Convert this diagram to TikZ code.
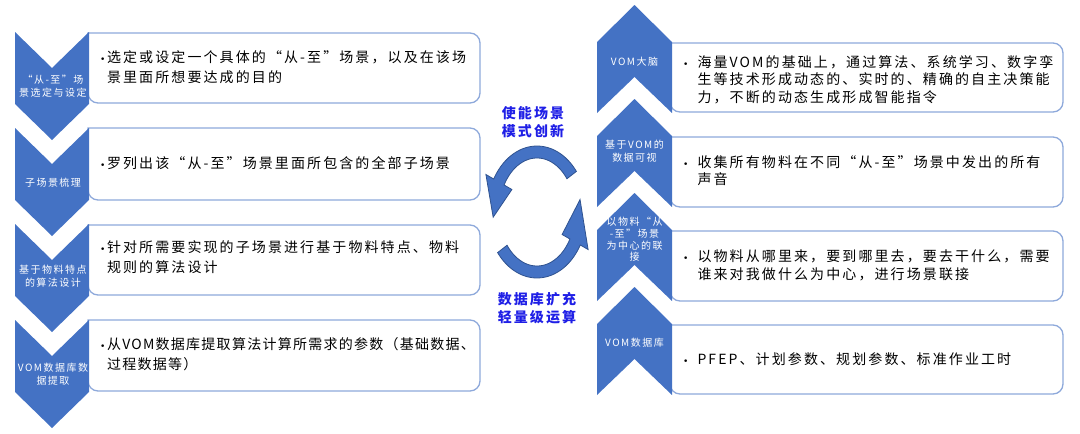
\documentclass[tikz,border=0pt]{standalone}
\usepackage{fontspec}
\setmainfont{Noto Sans CJK SC}
\newfontfamily\cjk[LetterSpace=15]{Noto Sans CJK SC}
\newfontfamily\cjknarrow[LetterSpace=9]{Noto Sans CJK SC}
\newfontfamily\cjkc[LetterSpace=15]{Noto Sans CJK SC}
\newfontfamily\bulfont{DejaVu Sans}
\definecolor{chev}{HTML}{4472C4}
\definecolor{boxline}{HTML}{8EA9DB}
\definecolor{arrfill}{HTML}{4472C4}
\definecolor{arrline}{HTML}{2F528F}
\definecolor{ctext}{HTML}{1F1FE6}
\tikzset{
  downchev/.pic={\fill[chev] (-37,0) -- (0,36) -- (37,0) -- (37,72) -- (0,108) -- (-37,72) -- cycle;},
  upchev/.pic={\fill[chev] (-37.5,0) -- (0,-37) -- (37.5,0) -- (37.5,71) -- (0,35) -- (-37.5,71) -- cycle;},
  boxline/.style={draw=boxline, line width=1.3pt, fill=white},
  chevtext/.style={text=white, align=center, inner sep=0pt, font=\cjkc\fontsize{10}{13}\selectfont},
  boxtext/.style={anchor=west, inner sep=0pt, text=black, font=\cjk\fontsize{14}{20}\selectfont},
  rboxtext/.style={anchor=west, inner sep=0pt, text=black, font=\cjk\fontsize{14}{17.5}\selectfont},
  midtext/.style={text=ctext, align=center, inner sep=0pt, font=\cjk\bfseries\fontsize{14}{18}\selectfont},
  arrowshape/.style={fill=arrfill, draw=arrline, line width=0.8pt},
}
\newcommand{\lbox}[2]{\draw[boxline] (88,#1) [rounded corners=10pt] -- (480,#1) -- (480,#2) -- (88,#2) [sharp corners] -- cycle;}
\newcommand{\rbox}[2]{\draw[boxline] (670,#1) [rounded corners=10pt] -- (1063,#1) -- (1063,#2) -- (670,#2) [sharp corners] -- cycle;}
\newcommand{\bul}{{\bulfont\fontsize{9}{9}\selectfont •}}
\newcommand{\lbul}[1]{\begin{tabular}{@{}l@{\hspace{1.5pt}}l@{}}\bul & #1\end{tabular}}
\newcommand{\rbul}[1]{\begin{tabular}{@{}l@{\hspace{9pt}}l@{}}\bul & #1\end{tabular}}
\begin{document}
\begin{tikzpicture}[x=1pt, y=-1pt]
\useasboundingbox (0,0) rectangle (1080,434);
% left boxes
\lbox{33}{103}
\lbox{128}{200}
\lbox{225}{295}
\lbox{320}{391}
% right boxes
\rbox{43}{112}
\rbox{137}{207}
\rbox{231}{301}
\rbox{325}{394}
% chevrons
\pic at (52,32) {downchev};
\pic at (52,128) {downchev};
\pic at (52,224) {downchev};
\pic at (52,320) {downchev};
\pic at (634.5,42) {upchev};
\pic at (634.5,136) {upchev};
\pic at (634.5,230) {upchev};
\pic at (634.5,324) {upchev};
% chevron texts
\node[chevtext] (c1) at (53,86) {“从-至”场\\景选定与设定};
\node[chevtext] (c2) at (53,183) {子场景梳理};
\node[chevtext] (c3) at (53,276) {基于物料特点\\的算法设计};
\node[chevtext] (c4) at (53,374) {VOM数据库数\\据提取};
\node[chevtext] (c5) at (634.5,62) {VOM大脑};
\node[chevtext] (c6) at (634.5,151.5) {基于VOM的\\数据可视};
\node[chevtext, font=\cjkc\fontsize{10}{11.7}\selectfont] (c7) at (634.5,239.5) {以物料“从\\-至”场景\\为中心的联\\接};
\node[chevtext] (c8) at (634.5,343) {VOM数据库};
% left box texts
\node[boxtext] (b1) at (100,68) {\lbul{选定或设定一个具体的“从-至”场景，以及在该场\\ & 景里面所想要达成的目的}};
\node[boxtext] (b2) at (100,164) {\lbul{罗列出该“从-至”场景里面所包含的全部子场景}};
\node[boxtext] (b3) at (100,258) {\lbul{针对所需要实现的子场景进行基于物料特点、物料\\ & 规则的算法设计}};
\node[boxtext, font=\cjknarrow\fontsize{14}{20}\selectfont] (b4) at (100,355) {\lbul{从VOM数据库提取算法计算所需求的参数（基础数据、\\ & 过程数据等）}};
% right box texts
\node[rboxtext] (r1) at (683,81) {\rbul{海量VOM的基础上，通过算法、系统学习、数字孪\\ & 生等技术形成动态的、实时的、精确的自主决策能\\ & 力，不断的动态生成形成智能指令}};
\node[rboxtext] (r2) at (683,172.5) {\rbul{收集所有物料在不同“从-至”场景中发出的所有\\ & 声音}};
\node[rboxtext] (r3) at (683,267) {\rbul{以物料从哪里来，要到哪里去，要去干什么，需要\\ & 谁来对我做什么为中心，进行场景联接}};
\node[rboxtext] (r4) at (683,361) {\rbul{PFEP、计划参数、规划参数、标准作业工时}};
% centre
\node[midtext] (m1) at (533,122) {使能场景\\模式创新};
\node[midtext] (m2) at (537,308) {数据库扩充\\轻量级运算};
% circular arrows
\filldraw[arrowshape] plot[domain=-38:-150, samples=40] ({537+50*cos(\x)},{212+66*sin(\x)})
  -- ({537+59*cos(-150)},{212+75*sin(-150)})
  -- ({537+44*cos(175)},{212+60*sin(175)})
  -- ({537+29*cos(-150)},{212+45*sin(-150)})
  -- plot[domain=-150:-38, samples=40] ({537+38*cos(\x)},{212+54*sin(\x)}) -- cycle;
\filldraw[arrowshape] plot[domain=142:30, samples=40] ({537+50*cos(\x)},{212+66*sin(\x)})
  -- ({537+59*cos(30)},{212+75*sin(30)})
  -- ({537+44*cos(-12)},{212+60*sin(-12)})
  -- ({537+29*cos(30)},{212+45*sin(30)})
  -- plot[domain=30:142, samples=40] ({537+38*cos(\x)},{212+54*sin(\x)}) -- cycle;
\end{tikzpicture}
\end{document}
